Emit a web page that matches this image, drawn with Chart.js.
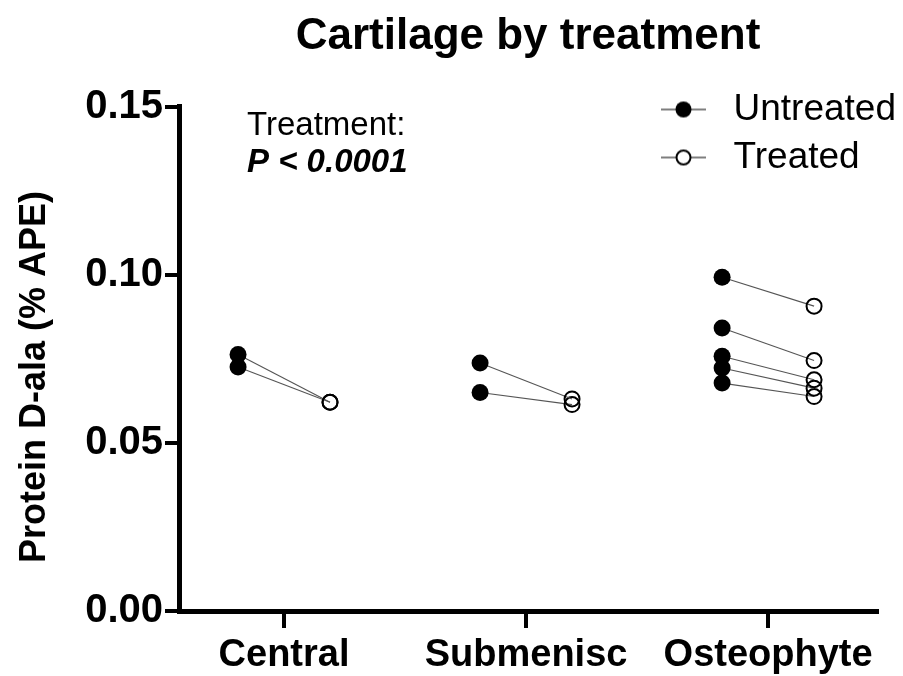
<!DOCTYPE html>
<html>
<head>
<meta charset="utf-8">
<title>Cartilage by treatment</title>
<script src="https://cdn.jsdelivr.net/npm/chart.js@4.4.1/dist/chart.umd.min.js"></script>
<style>
  html, body { margin: 0; padding: 0; background: #fff; }
  #wrap { width: 903px; height: 676px; }
</style>
</head>
<body>
<div id="wrap"><canvas id="cartilage"></canvas></div>
<script>
// x categories
var categories = ['Central', 'Submenisc', 'Osteophyte'];

// Protein D-ala (% APE), paired by index (untreated -> treated)
var centralUntreated = [0.0763, 0.0726];
var centralTreated = [0.0621, 0.0621];
var submeniscUntreated = [0.0738, 0.0650];
var submeniscTreated = [0.0631, 0.0614];
var osteophyteUntreated = [0.0993, 0.0842, 0.0758, 0.0723, 0.0678];
var osteophyteTreated = [0.0907, 0.0745, 0.0688, 0.0663, 0.0638];

var yTicks = [0, 0.05, 0.10, 0.15];
var seriesNames = ['Untreated', 'Treated'];
var noteLines = ['Treatment:', 'P < 0.0001'];
var yTitle = 'Protein D-ala (% APE)';

var fam = '"Liberation Sans", Arial, sans-serif';
var pairShift = 0.19;

// one small line dataset per animal: filled dot then open dot
function pairDatasets(cat, before, after) {
  var out = [];
  for (var i = 0; i < before.length; i++) {
    out.push({
      label: categories[cat] + ' ' + (i + 1),
      data: [
        { x: cat - pairShift, y: before[i] },
        { x: cat + pairShift, y: after[i] }
      ],
      showLine: true,
      borderColor: '#555',
      borderWidth: 1.1,
      pointRadius: [8.5, 7.5],
      pointHoverRadius: [8.5, 7.5],
      pointBackgroundColor: ['#000', 'rgba(0,0,0,0)'],
      pointBorderColor: '#000',
      pointBorderWidth: [0, 2]
    });
  }
  return out;
}

var datasets = []
  .concat(pairDatasets(0, centralUntreated, centralTreated))
  .concat(pairDatasets(1, submeniscUntreated, submeniscTreated))
  .concat(pairDatasets(2, osteophyteUntreated, osteophyteTreated));

// legend marker: short line with a dot on it
function legendMarker(filled) {
  var c = document.createElement('canvas');
  c.width = 54; c.height = 20;
  var g = c.getContext('2d');
  g.strokeStyle = '#555';
  g.lineWidth = 1.5;
  g.beginPath(); g.moveTo(0, 10); g.lineTo(45, 10); g.stroke();
  g.beginPath();
  g.arc(22.5, 10, filled ? 8 : 7, 0, Math.PI * 2);
  if (filled) {
    g.fillStyle = '#000'; g.fill();
  } else {
    g.fillStyle = '#fff'; g.fill();
    g.lineWidth = 2; g.strokeStyle = '#000'; g.stroke();
  }
  return c;
}
var markers = [legendMarker(true), legendMarker(false)];

// legend to the top right corner, title centred over the plot area
var placeBlocks = {
  id: 'placeBlocks',
  afterLayout: function(chart) {
    var lg = chart.legend;
    if (lg) {
      var w = lg.width, h = lg.height;
      lg.left = 650; lg.top = 80;
      lg.right = lg.left + w; lg.bottom = lg.top + h;
    }
    var tb = chart.titleBlock;
    if (tb) {
      tb.left = chart.chartArea.left;
      tb.right = chart.chartArea.right;
    }
  }
};

// stats note and the rotated y title
var notePlugin = {
  id: 'note',
  afterDraw: function(chart) {
    var ctx = chart.ctx;
    ctx.save();
    ctx.fillStyle = '#000';
    ctx.textBaseline = 'alphabetic';
    ctx.textAlign = 'left';
    ctx.font = '33px ' + fam;
    ctx.fillText(noteLines[0], 247, 135);
    ctx.font = 'italic bold 33px ' + fam;
    ctx.fillText(noteLines[1], 247, 172);

    ctx.translate(35, 377);
    ctx.rotate(-Math.PI / 2);
    ctx.textAlign = 'center';
    ctx.textBaseline = 'middle';
    ctx.font = 'bold 36px ' + fam;
    ctx.fillText(yTitle, 0, 0);
    ctx.restore();
  }
};

var ctx = document.getElementById('cartilage').getContext('2d');
var chart = new Chart(ctx, {
  type: 'scatter',
  data: { datasets: datasets },
  plugins: [placeBlocks, notePlugin],
  options: {
    responsive: true,
    maintainAspectRatio: false,
    animation: false,
    layout: { padding: { left: 0, right: 26, top: 0, bottom: 0 } },
    plugins: {
      tooltip: { enabled: false },
      title: {
        display: true,
        text: 'Cartilage by treatment',
        color: '#000',
        font: { family: fam, size: 44, weight: 'bold' },
        padding: { top: 10, bottom: 44 }
      },
      legend: {
        position: 'chartArea',
        align: 'start',
        labels: {
          usePointStyle: true,
          pointStyleWidth: 54,
          boxHeight: 20,
          padding: 11,
          color: '#000',
          font: { family: fam, size: 37 },
          generateLabels: function() {
            return seriesNames.map(function(n, i) {
              return { text: n, pointStyle: markers[i], fillStyle: '#000', strokeStyle: '#000', lineWidth: 0, hidden: false, datasetIndex: i };
            });
          }
        }
      }
    },
    scales: {
      x: {
        type: 'linear',
        min: -0.434,
        max: 2.45,
        afterBuildTicks: function(s) {
          s.ticks = categories.map(function(c, i) { return { value: i }; });
        },
        afterFit: function(s) { s.height = 65; },
        ticks: {
          callback: function(v) { return categories[v]; },
          color: '#000',
          font: { family: fam, size: 38, weight: 'bold' },
          padding: 5,
          maxRotation: 0,
          autoSkip: false
        },
        grid: { drawOnChartArea: false, drawTicks: true, tickLength: 17, lineWidth: 4, color: '#000' },
        border: { color: '#000', width: 5 }
      },
      y: {
        min: 0,
        max: 0.15,
        afterBuildTicks: function(s) {
          s.ticks = yTicks.map(function(v) { return { value: v }; });
        },
        afterFit: function(s) { s.width = 179; },
        ticks: {
          callback: function(v) { return v.toFixed(2); },
          color: '#000',
          font: { family: fam, size: 40, weight: 'bold' },
          padding: 2
        },
        grid: { drawOnChartArea: false, drawTicks: true, tickLength: 14, lineWidth: 4, color: '#000' },
        border: { color: '#000', width: 5 }
      }
    }
  }
});
</script>
</body>
</html>
